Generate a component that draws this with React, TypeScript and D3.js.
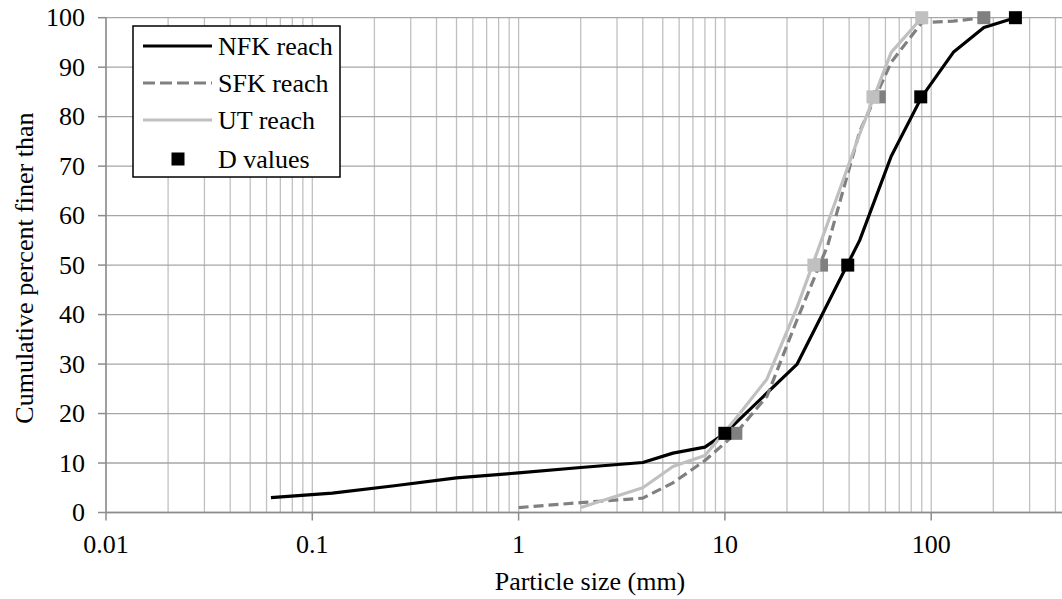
import React from "react";
import * as d3 from "d3";

// ---- data ----
const nfkSize = [0.063, 0.125, 0.25, 0.5, 1, 2, 4, 5.6, 8, 10, 22.4, 45, 64, 90, 128, 180, 256];
const nfkFiner = [3, 3.9, 5.4, 7, 8, 9.1, 10.1, 12, 13.2, 16, 30, 55, 72, 84, 93, 98, 100];

const sfkSize = [1, 2, 4, 5.6, 8, 11.3, 16, 22.4, 31.5, 45, 64, 90, 128, 180];
const sfkFiner = [1, 2, 2.9, 6, 10.5, 16, 23.5, 39, 54, 77, 91, 99, 99.3, 100];

const utSize = [2, 4, 5.6, 8, 11.3, 16, 22.4, 31.5, 45, 64, 90];
const utFiner = [1, 5, 9.3, 11.5, 19, 27, 41.5, 58.5, 76.5, 93, 100];

const dPercent = [16, 50, 84, 100];
const nfkD = [10, 39.4, 89, 256];
const sfkD = [11.3, 29.4, 56, 180];
const utD = [10, 27, 52.2, 90];

const xTickValues = [0.01, 0.1, 1, 10, 100, 1000];
const xTickLabels = ["0.01", "0.1", "1", "10", "100", ""];
const yTickValues = [0, 10, 20, 30, 40, 50, 60, 70, 80, 90, 100];

const seriesNames = ["NFK reach", "SFK reach", "UT reach", "D values"];

// ---- layout ----
const W = 1062;
const H = 599;
const FONT = "Liberation Serif, Times New Roman, DejaVu Serif, serif";
const FS = 26;

const x = d3.scaleLog().domain([0.01, 1000]).range([106, 1137.5]);
const y = d3.scaleLinear().domain([0, 100]).range([512.5, 17.7]);

const C_NFK = "#000000";
const C_SFK = "#808080";
const C_UT = "#c0c0c0";

function zip(a: number[], b: number[]): [number, number][] {
  return a.map((v, i) => [v, b[i]] as [number, number]);
}

const line = d3
  .line<[number, number]>()
  .x((d) => x(d[0]))
  .y((d) => y(d[1]));

export default function App() {
  const minor: number[] = [];
  for (let e = -2; e <= 2; e++) {
    for (let m = 1; m <= 9; m++) minor.push(m * Math.pow(10, e));
  }
  minor.push(1000);

  const [x0, x1] = x.range();
  const [yb, yt] = y.range();
  const sq = 13;

  const squares = (sizes: number[], color: string) =>
    sizes.map((s, i) => (
      <rect
        key={color + i}
        x={x(s) - sq / 2}
        y={y(dPercent[i]) - sq / 2}
        width={sq}
        height={sq}
        fill={color}
      />
    ));

  const legendX = 133;
  const legendY = 26;
  const rowY = [46, 83, 120, 159];

  const T = { fontFamily: FONT, fontSize: FS, fill: "#000" } as const;

  return (
    <div>
      <style>{`body{margin:0}`}</style>
      <svg width={W} height={H} style={{ display: "block" }}>
        <rect x={0} y={0} width={W} height={H} fill="#ffffff" />
        <defs>
          <clipPath id="plot">
            <rect x={x0} y={yt - 10} width={x1 - x0} height={yb - yt + 20} />
          </clipPath>
        </defs>
        {/* vertical grid */}
        {minor.map((v, i) => (
          <line
            key={"v" + i}
            x1={x(v)}
            x2={x(v)}
            y1={yt}
            y2={yb}
            stroke="#c0c0c0"
            strokeWidth={1.3}
          />
        ))}
        {/* horizontal grid */}
        {yTickValues.map((v) => (
          <line
            key={"h" + v}
            x1={x0}
            x2={x1}
            y1={y(v)}
            y2={y(v)}
            stroke="#a6a6a6"
            strokeWidth={1.3}
          />
        ))}
        {/* axes */}
        <line x1={x0} x2={x1} y1={yb} y2={yb} stroke="#8c8c8c" strokeWidth={1.5} />
        <line x1={x0} x2={x0} y1={yt} y2={yb} stroke="#8c8c8c" strokeWidth={1.5} />
        {xTickValues.map((v) => (
          <line key={"xt" + v} x1={x(v)} x2={x(v)} y1={yb} y2={yb + 8} stroke="#8c8c8c" strokeWidth={1.5} />
        ))}
        {yTickValues.map((v) => (
          <line key={"yt" + v} x1={x0 - 8} x2={x0} y1={y(v)} y2={y(v)} stroke="#8c8c8c" strokeWidth={1.5} />
        ))}
        {/* tick labels */}
        {xTickValues.map((v, i) =>
          xTickLabels[i] ? (
            <text key={"xl" + v} x={x(v)} y={553} textAnchor="middle" {...T}>
              {xTickLabels[i]}
            </text>
          ) : null
        )}
        {yTickValues.map((v) => (
          <text key={"yl" + v} x={85} y={y(v)} dy="0.33em" textAnchor="end" {...T}>
            {v}
          </text>
        ))}
        {/* axis titles */}
        <text x={590} y={590} textAnchor="middle" {...T}>
          Particle size (mm)
        </text>
        <text transform={`translate(33, ${(yt + yb) / 2 + 3}) rotate(-90)`} textAnchor="middle" {...T}>
          Cumulative percent finer than
        </text>
        {/* series */}
        <g clipPath="url(#plot)">
          <path d={line(zip(nfkSize, nfkFiner)) || ""} fill="none" stroke={C_NFK} strokeWidth={3.2} strokeLinejoin="round" />
          <path
            d={line(zip(sfkSize, sfkFiner)) || ""}
            fill="none"
            stroke={C_SFK}
            strokeWidth={3.2}
            strokeDasharray="10,5"
            strokeLinejoin="round"
          />
          <path d={line(zip(utSize, utFiner)) || ""} fill="none" stroke={C_UT} strokeWidth={3.2} strokeLinejoin="round" />
          {squares(sfkD, C_SFK)}
          {squares(utD, C_UT)}
          {squares(nfkD, C_NFK)}
        </g>
        {/* legend */}
        <rect x={legendX} y={legendY} width={207} height={151} fill="#ffffff" stroke="#000" strokeWidth={1.5} />
        <line x1={143} x2={212} y1={rowY[0]} y2={rowY[0]} stroke={C_NFK} strokeWidth={3.2} />
        <line x1={143} x2={212} y1={rowY[1]} y2={rowY[1]} stroke={C_SFK} strokeWidth={3.2} strokeDasharray="12,5" />
        <line x1={143} x2={212} y1={rowY[2]} y2={rowY[2]} stroke={C_UT} strokeWidth={3.2} />
        <rect x={178 - sq / 2} y={rowY[3] - sq / 2} width={sq} height={sq} fill="#000" />
        {seriesNames.map((n, i) => (
          <text key={n} x={218} y={rowY[i]} dy="0.35em" {...T}>
            {n}
          </text>
        ))}
      </svg>
    </div>
  );
}
